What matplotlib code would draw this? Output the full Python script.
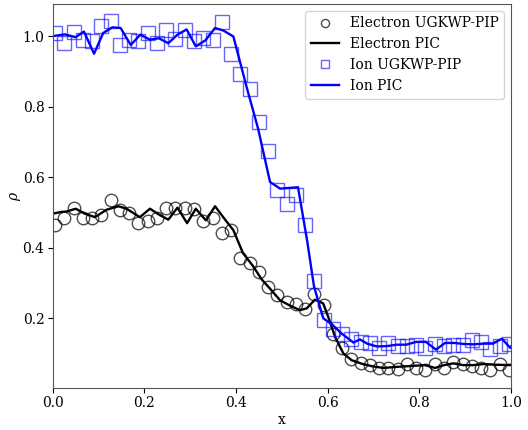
import numpy as np
import matplotlib.pyplot as plt

plt.rcParams['font.family'] = 'DejaVu Serif'
plt.rcParams['mathtext.fontset'] = 'dejavuserif'

# UGKWP-PIP samples
x_pip = np.linspace(0.005, 0.995, 50)
rho_e_pip = [0.464, 0.485, 0.514, 0.486, 0.485, 0.494, 0.537, 0.506, 0.500, 0.471,
             0.476, 0.486, 0.514, 0.514, 0.514, 0.511, 0.476, 0.486, 0.442, 0.450,
             0.372, 0.357, 0.330, 0.289, 0.265, 0.246, 0.240, 0.225, 0.268, 0.237,
             0.155, 0.116, 0.083, 0.074, 0.067, 0.059, 0.059, 0.057, 0.069, 0.059,
             0.054, 0.069, 0.059, 0.076, 0.071, 0.064, 0.059, 0.052, 0.069, 0.052]
rho_i_pip = [1.010, 0.981, 1.012, 0.991, 0.986, 1.031, 1.043, 0.977, 0.991, 0.987,
             1.009, 0.981, 1.019, 0.993, 1.018, 0.987, 0.997, 0.991, 1.042, 0.951,
             0.894, 0.851, 0.756, 0.676, 0.565, 0.523, 0.549, 0.464, 0.305, 0.194,
             0.169, 0.155, 0.140, 0.133, 0.130, 0.116, 0.130, 0.121, 0.121, 0.125,
             0.116, 0.128, 0.121, 0.125, 0.123, 0.138, 0.133, 0.114, 0.121, 0.128]

# PIC reference
x_e_pic = [0.0, 0.019, 0.03, 0.05, 0.07, 0.092, 0.117, 0.143, 0.161, 0.19,
           0.212, 0.232, 0.252, 0.272, 0.293, 0.312, 0.334, 0.354, 0.376, 0.394,
           0.415, 0.437, 0.456, 0.474, 0.496, 0.516, 0.539, 0.554, 0.572, 0.59,
           0.601, 0.616, 0.634, 0.652, 0.674, 0.696, 0.721, 0.75, 0.787, 0.812,
           0.834, 0.854, 0.874, 0.896, 0.918, 0.94, 0.969, 1.0]
rho_e_pic = [0.497, 0.502, 0.503, 0.511, 0.497, 0.487, 0.508, 0.518, 0.511, 0.487,
             0.511, 0.494, 0.480, 0.514, 0.470, 0.511, 0.478, 0.518, 0.480, 0.450,
             0.385, 0.348, 0.310, 0.284, 0.251, 0.237, 0.223, 0.228, 0.253, 0.242,
             0.204, 0.147, 0.100, 0.081, 0.071, 0.064, 0.059, 0.062, 0.065, 0.067,
             0.059, 0.067, 0.072, 0.067, 0.067, 0.070, 0.068, 0.067]

x_i_pic = [0.0, 0.026, 0.05, 0.068, 0.09, 0.11, 0.13, 0.148, 0.17, 0.191,
           0.212, 0.231, 0.252, 0.272, 0.292, 0.312, 0.333, 0.354, 0.372, 0.394,
           0.423, 0.448, 0.474, 0.496, 0.535, 0.555, 0.57, 0.59, 0.609, 0.63,
           0.656, 0.67, 0.686, 0.707, 0.729, 0.75, 0.771, 0.793, 0.814, 0.836,
           0.856, 0.876, 0.897, 0.918, 0.94, 0.96, 0.98, 0.998, 1.0]
rho_i_pic = [1.001, 1.006, 0.998, 1.014, 0.951, 1.010, 1.026, 1.024, 0.976, 1.005,
             0.991, 0.995, 0.981, 1.005, 1.020, 0.972, 0.989, 1.024, 1.017, 1.000,
             0.856, 0.738, 0.587, 0.568, 0.572, 0.420, 0.290, 0.200, 0.183, 0.157,
             0.131, 0.140, 0.128, 0.120, 0.121, 0.125, 0.125, 0.133, 0.133, 0.111,
             0.130, 0.130, 0.127, 0.126, 0.128, 0.128, 0.142, 0.116, 0.120]

fig = plt.figure(figsize=(5.28, 4.3), dpi=100)
ax = fig.add_axes([0.100, 0.098, 0.868, 0.893])

ax.plot(x_pip, rho_e_pip, 'o', mfc='none', mec='black', ms=9, mew=1.0, alpha=0.7,
        label='Electron UGKWP-PIP')
ax.plot(x_e_pic, rho_e_pic, '-', color='black', lw=1.7, label='Electron PIC')
ax.plot(x_pip, rho_i_pip, 's', mfc='none', mec='blue', ms=9.5, mew=1.0, alpha=0.6,
        label='Ion UGKWP-PIP')
ax.plot(x_i_pic, rho_i_pic, '-', color='blue', lw=1.7, label='Ion PIC')

ax.set_xlim(0, 1)
ax.set_xlabel('x', fontsize=10, labelpad=2)
ax.set_ylabel(r'$\rho$', fontsize=10, labelpad=0)
ax.tick_params(labelsize=10, pad=2.5)
for s in ax.spines.values():
    s.set_color('#555555')
ax.legend(loc='upper right', fontsize=10, markerscale=0.65)

fig.savefig('out.png', dpi=100)
